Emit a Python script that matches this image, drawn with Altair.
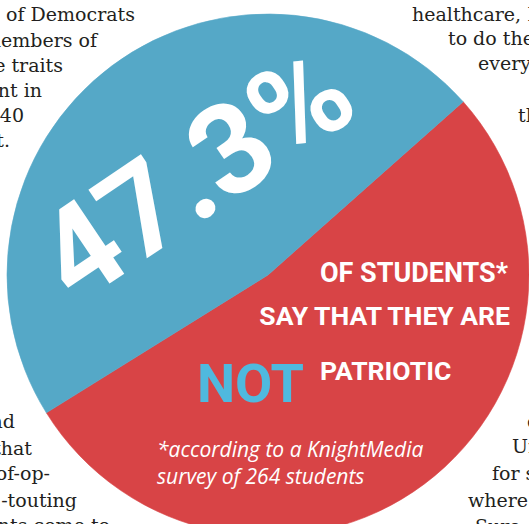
import math
import altair as alt
import pandas as pd

# ---- data ----
labels = ["Not patriotic", "Patriotic"]
shares = [52.7, 47.3]
slice_order = [0, 1]

big_figure = "47.3%"
headline_1 = "OF STUDENTS*"
headline_2 = "SAY THAT THEY ARE"
headline_not = "NOT"
headline_3 = "PATRIOTIC"
note_lines = ["*according to a KnightMedia", "survey of 264 students"]

left_column = [" of Democrats", "members of", "the  traits", "ment in", "40", "t.",
               "and", "that", "of-op-", "-touting", "students come to"]
right_column = ["healthcare, I've", "to do the", "everyday", "the",
                "of", "United", "for students", "where the", "Sure, the"]

# ---- layout (pixel positions, kept apart from the data) ----
W, H = 529, 524
CX, CY, R = 268, 275, 261
START = math.radians(48.4)

left_x = [135, 97, 63, 42, 24, 10, 15, 32, 50, 77, 110]
left_y = [21, 47, 72, 97, 122, 147, 428, 455, 480, 507, 532]
right_x = [412, 448, 478, 518, 527, 512, 492, 468, 475]
right_y = [21, 45, 70, 122, 428, 453, 480, 507, 533]

BLUE = "#55a8c7"
RED = "#d84446"
NOT_BLUE = "#4fb9de"
INK = "#231f20"
COND = "Roboto, Liberation Sans, sans-serif"
SERIF = "DejaVu Serif, Liberation Serif, serif"
NOTE = "Open Sans, Lato, sans-serif"

pie_df = pd.DataFrame({"label": labels, "value": shares, "order": slice_order})
left_df = pd.DataFrame({"t": left_column, "x": left_x, "y": left_y})
right_df = pd.DataFrame({"t": right_column, "x": right_x, "y": right_y})

base_px = dict(x=alt.X("x:Q", scale=None, axis=None), y=alt.Y("y:Q", scale=None, axis=None))

left_text = alt.Chart(left_df).mark_text(
    align="right", baseline="alphabetic", font=SERIF, fontSize=19, color=INK
).encode(text="t:N", **base_px)

right_text = alt.Chart(right_df).mark_text(
    align="left", baseline="alphabetic", font=SERIF, fontSize=19, color=INK
).encode(text="t:N", **base_px)

color_scale = alt.Scale(domain=labels, range=[RED, BLUE])
pie = alt.Chart(pie_df).mark_arc(outerRadius=R, innerRadius=0, strokeWidth=0.6).encode(
    theta=alt.Theta("value:Q", stack=True, scale=alt.Scale(range=[START, START + 2 * math.pi])),
    color=alt.Color("label:N", scale=color_scale, legend=None),
    stroke=alt.Stroke("label:N", scale=color_scale, legend=None),
    order=alt.Order("order:Q"),
    x=alt.value(CX),
    y=alt.value(CY),
)

def label(text, x, y, size, color="white", align="left", angle=0, font=COND,
          weight="bold", style="normal", baseline="alphabetic"):
    kw = dict(align=align, baseline=baseline, font=font, fontSize=size, color=color,
              fontWeight=weight, fontStyle=style)
    if angle:
        kw["angle"] = angle
    return alt.Chart(pd.DataFrame({"t": [text]})).mark_text(**kw).encode(
        text="t:N", x=alt.value(x), y=alt.value(y)
    )

big = label(big_figure, 198, 178, 126, angle=326, align="center", baseline="middle")
l1 = label(headline_1, 508, 282, 27, align="right")
l2 = label(headline_2, 510, 325, 26.5, align="right")
l_not = label(headline_not, 197, 402, 54, color=NOT_BLUE)
l3 = label(headline_3, 320, 380, 26.5)
n1 = label(note_lines[0], 157, 457, 21, font=NOTE, weight="normal", style="italic")
n2 = label(note_lines[1], 157, 484, 21, font=NOTE, weight="normal", style="italic")

chart = alt.layer(left_text, right_text, pie, big, l1, l2, l_not, l3, n1, n2).properties(
    width=W, height=H, padding=0, autosize=alt.AutoSizeParams(type="none"), background="white"
).configure_view(stroke=None)

chart.save("out.html", embed_options={"renderer": "svg", "actions": False})
